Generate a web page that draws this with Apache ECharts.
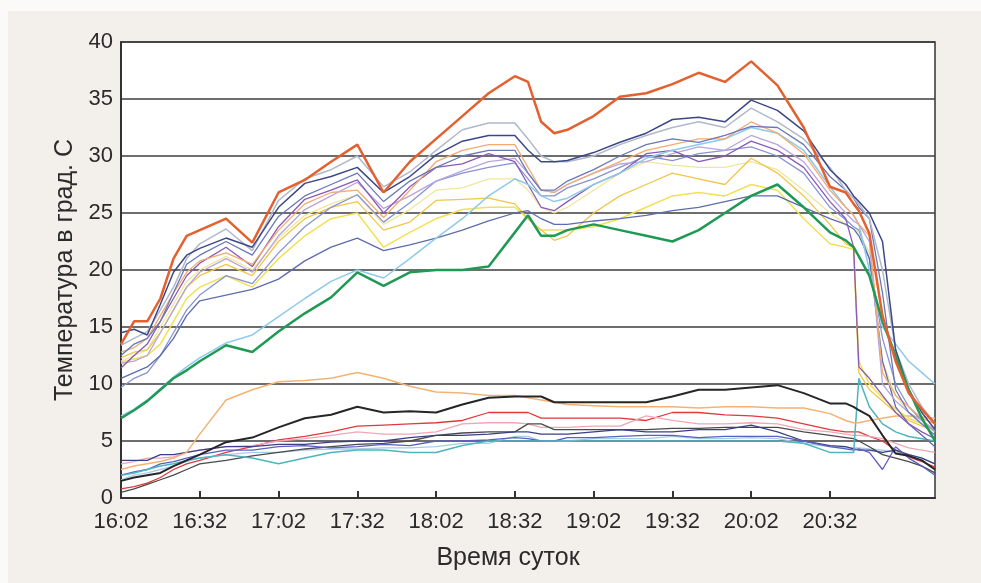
<!DOCTYPE html>
<html>
<head>
<meta charset="utf-8">
<script src="https://cdn.jsdelivr.net/npm/echarts@6.0.0/dist/echarts.min.js"></script>
<style>
html, body { margin: 0; padding: 0; background: #fbfaf8; }
#paper { position: absolute; left: 8px; top: 11px; right: 0; bottom: 0; background: #f3f0ec; }
#chart { position: absolute; left: 0; top: 0; width: 981px; height: 583px; }
</style>
</head>
<body>
<div id="paper"></div>
<div id="chart"></div>
<script>
// minutes after 16:02
var T = [0,5,10,15,20,25,30,40,50,60,70,80,90,100,110,120,130,140,150,155,160,165,170,180,190,200,210,220,230,240,250,260,270,276,279,281,285,290,295,300,305,310];
var tickMinutes = [0,30,60,90,120,150,180,210,240,270];
var tickLabels = ['16:02','16:32','17:02','17:32','18:02','18:32','19:02','19:32','20:02','20:32'];

// upper group
var gray     = [13.4,14,14.6,16.5,18.5,21,22.3,23.6,21.7,26.1,28,28.8,30,27.3,28.6,30.5,32.3,32.9,32.9,31.5,30,29.5,29.5,30,31,31.8,32.5,33,32.5,34.2,33,31.5,29,27,26.3,25.8,24.5,20,13,10,8,6.5];
var navy     = [14.5,14.8,14.3,17,19.8,21.3,21.9,22.8,22,25.5,27.6,28.2,29,26.8,28.2,30.1,31.3,31.8,31.8,30.5,29.5,29.5,29.6,30.3,31.2,32,33.2,33.4,33,34.9,34,32.2,28.8,27.5,26.5,26,25,22.5,13,9.5,7.5,6];
var salmon   = [12.8,13.2,14,16,18,19.8,20.8,21.5,20.5,23.5,25.8,26.8,27,24.6,27,29.5,30.5,31,31,29,27,26.8,27.5,28.5,29.5,30.5,31,31.5,31.5,33,32,30.2,27,25.5,24.8,24,23,11,9,8,7,6.5];
var purple   = [11.4,12.5,13.5,15.5,17.5,19.5,20.6,22,20.3,23.8,26.2,27,27.9,25,27.3,29,29.3,30.2,29.5,27.5,25.5,25.2,26,27.5,28.5,30.2,30.5,29.5,30,31.3,30.5,29,26,24.5,22,11.5,10.5,9,7.5,6.5,5.8,5.2];
var periwink = [9.7,10.5,11,12.5,14.5,16.5,17.8,19.5,18.8,21.5,23.8,25.5,26.6,24.2,25.9,27.8,28.5,29,29.4,28,26.5,26.5,27.2,28,29,30,29.6,30.2,30.5,30.8,30,28.5,25.5,24.4,23.8,23.5,21,14,10,8,6.8,5.8];
var gold     = [12.3,12.8,13,14.5,16.5,18.5,19.5,20.5,19.5,22.5,24.5,25.5,26,23.5,24.2,26.1,26.2,26.3,25.8,24.5,23.5,22.6,23,25,26.5,27.5,28.5,28,27.5,29.8,28.5,26.5,24,22.3,22,11,9.5,8.5,7.5,6.8,6.3,6];
var yellow   = [11.9,12.2,12.5,13.5,15.5,17.5,18.5,19.5,18.5,21,23,24.5,25,22,23.3,24.5,25.3,25.5,25.5,24.5,23.5,23.5,23.5,23.8,24.5,25.5,26.5,26.8,26.5,27.5,27,24.5,22.3,22,21.8,12,10,8.8,7.8,7,6.5,6];
var paleYel  = [12,12.5,13,15,17,19,20,21.2,20,22.8,24.8,25.8,26.6,24,25.3,27,27.2,28,28,27,25.5,25,25.5,27,28.5,29.5,29.2,29,29,29.5,28.8,27,25,24,23.6,23.3,21.5,12,9,7.5,6.5,5.8];
var ltBlue   = [7.2,7.8,8.6,9.6,10.6,11.5,12.3,13.6,14.3,15.9,17.5,19,20,19.3,21,22.8,24.5,26.5,28,27.5,26.5,26,26.3,27.5,28.5,29.8,30.5,31,31.5,32.5,32,30.5,27.3,25.5,24.8,24,20,15,13.5,12,11,10];
var slate    = [10.5,11,11.5,12.5,14,16,17.3,17.8,18.3,19.2,20.8,22,22.8,21.7,22.2,22.8,23.5,24.3,25,25.2,24.5,24,24,24.3,24.5,24.8,25.2,25.5,26,26.5,26.5,25.5,24.5,24,23.6,23,21,12,8,6.5,5.5,4.5];
var lavender = [11.8,12,12.5,14.5,16.5,18.5,19.8,21,19.8,23,25.3,26.5,27.7,25.4,26.5,27.8,28.7,29.5,29.8,28.5,27,26.8,27.5,28.5,29.3,29.5,30.2,30.8,30.5,31.8,31,29.5,26.5,25,24.3,24,22.5,10,8.5,7.5,6.8,6];
var steel    = [12.5,13.5,14,15.5,18,20.5,21.3,22.5,21.3,24.7,26.5,27.5,28.5,26,27.8,29,30,30.5,30.5,28.5,27,27,27.8,28.8,30,31,31.5,31.2,31.8,32.6,32.5,31,28.2,27,26.3,25.5,24.5,18,9.5,7.5,6.5,5.5];

// lower group
var red      = [0.8,1,1.3,1.8,2.5,3,3.3,4,4.5,5.1,5.4,5.8,6.3,6.4,6.5,6.6,6.8,7.5,7.5,7.5,7,7,7,7,7,6.8,7.5,7.5,7.3,7.2,7,6.5,6,5.8,5.8,5.8,5.4,5,4.2,3.6,3.2,2.7];
var pink     = [3,3.2,3.5,3.5,3.6,4,4.2,4.5,4.6,5,5.2,5.5,5.8,5.6,5.6,5.8,6.5,6.6,6.6,6.5,6.2,6.2,6.2,6.3,6.3,7.2,6.8,6.5,6.5,6.6,6.5,6,5.8,5.6,5.5,5.5,5.4,5.2,4.8,4.4,4.2,4];
var navyLow  = [3.3,3.3,3.3,3.8,3.8,4,4.2,4.5,4.5,4.7,4.7,4.9,5,5,5.3,5.5,5.5,5.6,5.8,5.8,5.6,5.6,5.6,5.8,6,5.8,5.8,6,6,6.4,5.8,5,4.6,4.5,4.3,4.2,4.2,4,4.2,3.8,3.5,3];
var blueLow  = [2,2.3,2.5,3,3.2,3.5,3.8,4.2,4.2,4.5,4.6,4.4,4.5,4.7,4.6,5,5,5.1,5.3,5.2,5,5,5.3,5.3,5.4,5.5,5.5,5.3,5.4,5.4,5.4,5,4.5,4.3,4.2,4.3,4,2.5,4.5,3.5,2.8,2];
var teal     = [2,2.2,2.5,2.8,3,3.3,3.5,3.8,3.5,3,3.5,4,4.2,4.2,4,4,4.6,5,5,5,5,5,5,5,5,5,5,5,5,5,5,4.8,4,4,4,10.5,8,6.5,5.8,5.4,5.2,5];
var darkGray = [0.5,0.8,1.2,1.6,2,2.5,3,3.3,3.7,4,4.3,4.5,4.7,4.8,5,5.5,5.7,5.8,5.8,6.5,6.5,6,6,6,6,6,6.1,6.1,6.2,6.2,6.2,5.8,5.5,5.3,5.2,5,4.5,3.8,3.5,3.2,2.8,2.2];
var skyLow   = [1.6,2,2.2,2.5,2.8,3.2,3.5,3.8,4,4,4.2,4.3,4.3,4.4,4.4,4.5,4.8,4.8,5.4,5.4,5,5,5,5.2,5.2,5.2,5.4,5.2,5.2,5.3,5.2,4.8,4.5,4.4,4.4,4.4,4.3,4.2,4,3.8,3.5,3];
var peach    = [2.5,2.8,3,3.2,3.5,4,5.6,8.6,9.5,10.2,10.3,10.5,11,10.5,9.8,9.3,9.2,9,9,8.8,8.6,8.4,8.2,8.1,8,8,8,7.9,8,8,7.9,7.9,7.4,6.8,6.6,6.6,6.8,7,7.2,7.2,7.1,7];
var black    = [1.5,1.8,2,2.2,2.8,3.3,3.8,4.9,5.3,6.2,7,7.3,8,7.5,7.6,7.5,8.2,8.8,8.9,8.9,8.9,8.4,8.4,8.4,8.4,8.4,8.9,9.5,9.5,9.7,9.9,9.2,8.3,8.3,8,7.7,7.2,5.5,3.9,3.7,3.3,2.5];
var green    = [7,7.7,8.5,9.5,10.5,11.2,12,13.4,12.8,14.6,16.2,17.6,19.8,18.6,19.8,20,20,20.3,23.3,24.8,23,23,23.5,24,23.5,23,22.5,23.5,25,26.5,27.5,25.5,23.3,22.6,22,21.2,19.5,15.5,12.5,9.5,7,5];
var orange   = [13.5,15.5,15.5,17.5,21,23,23.5,24.5,22.4,26.8,27.9,29.5,31,26.8,29.5,31.5,33.5,35.5,37,36.5,33,32,32.3,33.5,35.2,35.5,36.3,37.3,36.5,38.3,36.2,32.5,27.3,26.8,25.8,25.2,23.2,16,12,9.2,7.8,6.5];

var font = "'Liberation Sans', Arial, sans-serif";

function line(vals, color, width) {
	return {
		type: 'line',
		data: T.map(function (t, i) { return [t, vals[i]]; }),
		showSymbol: false,
		symbol: 'none',
		lineStyle: { color: color, width: width },
		silent: true
	};
}

var series = [
	line(red, '#e0393c', 1.3),
	line(pink, '#f1a6b6', 1.3),
	line(skyLow, '#a6cce6', 1.3),
	line(darkGray, '#4a4a4a', 1.3),
	line(navyLow, '#3b3e86', 1.3),
	line(blueLow, '#5a5fc2', 1.3),
	line(teal, '#4cb5be', 1.5),
	line(peach, '#f4b274', 1.5),
	line(paleYel, '#efe79a', 1.3),
	line(yellow, '#f2e055', 1.5),
	line(gold, '#f1c64a', 1.3),
	line(periwink, '#8794d4', 1.3),
	line(slate, '#5e6cae', 1.3),
	line(lavender, '#b8a4dc', 1.3),
	line(purple, '#8a5ab8', 1.3),
	line(ltBlue, '#8ecaea', 1.5),
	line(salmon, '#f4ab72', 1.3),
	line(steel, '#6878b8', 1.3),
	line(gray, '#b0b8cb', 1.5),
	line(navy, '#3b4787', 1.5),
	line(black, '#262626', 2),
	line(green, '#1f9a55', 2.5),
	line(orange, '#e4602e', 2.5)
];

var option = {
	animation: false,
	backgroundColor: 'transparent',
	grid: {
		left: 121, right: 46, top: 42, bottom: 85,
		show: true,
		backgroundColor: '#fff',
		borderColor: '#333',
		borderWidth: 1.5,
		outerBoundsMode: 'none'
	},
	xAxis: {
		type: 'value',
		min: 0,
		max: 310,
		name: 'Время суток',
		nameLocation: 'middle',
		nameGap: 48,
		nameTextStyle: { fontFamily: font, fontSize: 25, color: '#2b2b2b', padding: [0, 40, 0, 0] },
		axisLine: { show: true, lineStyle: { color: '#333', width: 2 } },
		axisTick: { show: true, inside: true, length: 7, customValues: tickMinutes, lineStyle: { color: '#333', width: 2 } },
		axisLabel: {
			customValues: tickMinutes,
			margin: 13,
			fontFamily: font,
			fontSize: 22,
			color: '#2b2b2b',
			formatter: function (v) { return tickLabels[tickMinutes.indexOf(v)] || ''; }
		},
		splitLine: { show: false }
	},
	yAxis: {
		type: 'value',
		min: 0,
		max: 40,
		interval: 5,
		name: 'Температура в град. С',
		nameLocation: 'middle',
		nameGap: 43,
		nameTextStyle: { fontFamily: font, fontSize: 25, color: '#2b2b2b' },
		axisLine: { show: true, lineStyle: { color: '#333', width: 2 } },
		axisTick: { show: false },
		axisLabel: { margin: 8, fontFamily: font, fontSize: 22, color: '#2b2b2b' },
		splitLine: { show: true, lineStyle: { color: '#3c3c3c', width: 1.5 } }
	},
	series: series
};

var chart = echarts.init(document.getElementById('chart'));
chart.setOption(option);
</script>
</body>
</html>
